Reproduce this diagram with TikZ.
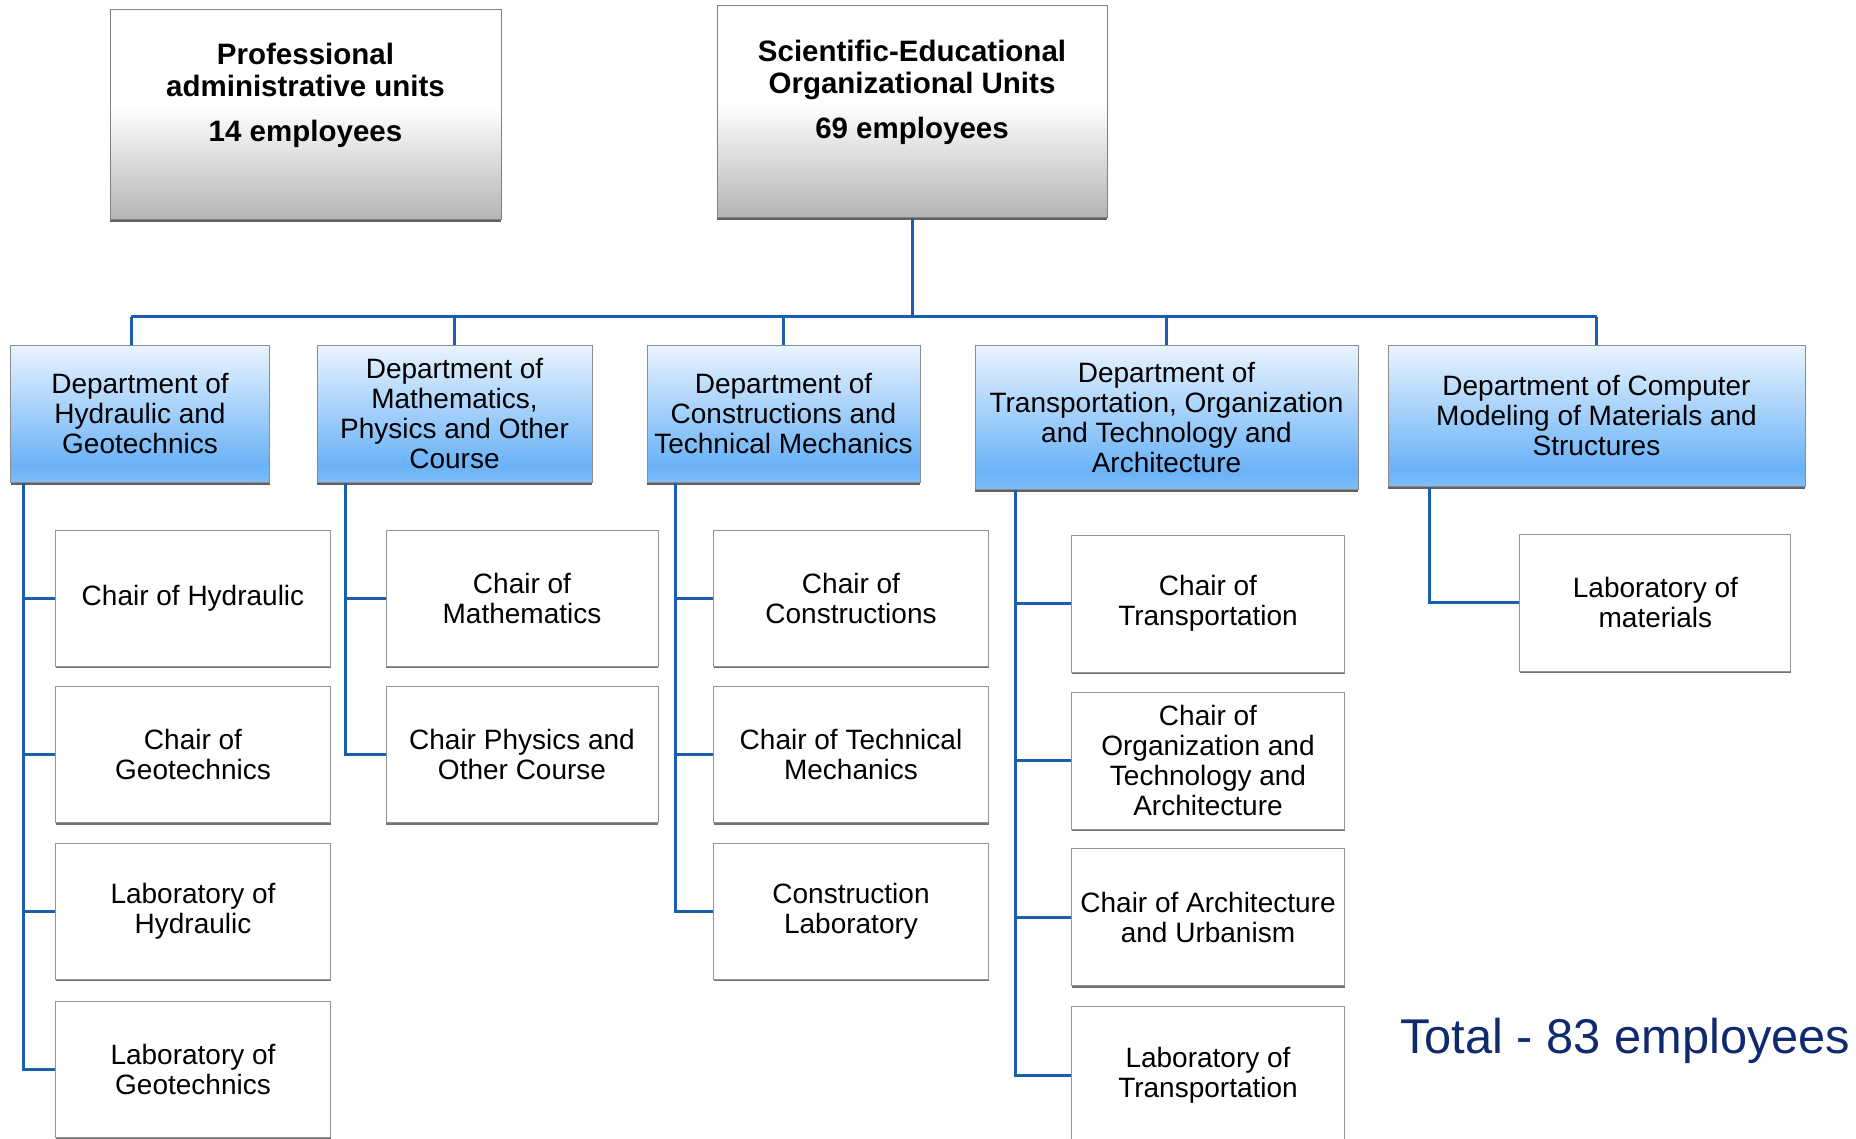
\documentclass[tikz,border=0pt]{standalone}
\usepackage{fontspec}
\setmainfont{Liberation Sans}
\usetikzlibrary{shadows}
\definecolor{connblue}{HTML}{1C5EAE}
\definecolor{totalblue}{HTML}{0F2A6E}
\definecolor{greyB}{HTML}{B4B4B4}
\definecolor{blueB}{HTML}{7EBDF8}
\definecolor{blueM}{HTML}{6AB2F7}
\definecolor{blueT}{HTML}{E8F3FE}
\pgfdeclareverticalshading{greyfade}{100bp}{color(0bp)=(greyB); color(25bp)=(greyB); color(52bp)=(white); color(100bp)=(white)}
\pgfdeclareverticalshading{bluefade}{100bp}{color(0bp)=(blueB); color(25bp)=(blueB); color(31bp)=(blueM); color(75bp)=(blueT); color(100bp)=(blueT)}
\begin{document}
\begin{tikzpicture}[x=1pt,y=-1pt,
  topbox/.style={draw=black!50, line width=1pt, shade, shading=greyfade, inner sep=0pt,
    drop shadow={shadow xshift=0pt, shadow yshift=-2.5pt, fill=black!62, opacity=1}},
  toptext/.style={align=center, inner sep=0pt, font=\fontsize{29.5}{32}\selectfont\bfseries},
  deptbox/.style={draw=black!45, line width=1pt, shade, shading=bluefade, inner sep=0pt,
    align=center, font=\fontsize{28}{30}\selectfont,
    drop shadow={shadow xshift=0pt, shadow yshift=-2.5pt, fill=black!62, opacity=1}},
  childbox/.style={draw=black!42, line width=1pt, fill=white, inner sep=0pt,
    align=center, font=\fontsize{28}{30}\selectfont,
    drop shadow={shadow xshift=0pt, shadow yshift=-2pt, fill=black!55, opacity=1}},
  conn/.style={draw=connblue, line width=3pt}
]
\useasboundingbox (0,0) rectangle (1856,1139);

% top boxes
\node[topbox, minimum width=391, minimum height=210] (top1) at (305.5,115) {};
\node[toptext] (top1t) at (305.5,95) {Professional\\administrative units\\[13pt]14 employees};
\node[topbox, minimum width=390, minimum height=212] (top2) at (912,112) {};
\node[toptext] (top2t) at (912,92) {Scientific-Educational\\Organizational Units\\[13pt]69 employees};

% departments
\node[deptbox, minimum width=259, minimum height=136] (d1) at (140,414) {Department of\\Hydraulic and\\Geotechnics};
\node[deptbox, minimum width=275, minimum height=136] (d2) at (454.5,414) {Department of\\Mathematics,\\Physics and Other\\Course};
\node[deptbox, minimum width=273, minimum height=136] (d3) at (783.5,414) {Department of\\Constructions and\\Technical Mechanics};
\node[deptbox, minimum width=383, minimum height=143] (d4) at (1166.5,417.5) {Department of\\Transportation, Organization\\and Technology and\\Architecture};
\node[deptbox, minimum width=417, minimum height=140] (d5) at (1596.5,416) {Department of Computer\\Modeling of Materials and\\Structures};

% children
\node[childbox, minimum width=275, minimum height=136] (c11) at (193,598) {Chair of Hydraulic};
\node[childbox, minimum width=275, minimum height=136] (c12) at (193,754.6) {Chair of\\Geotechnics};
\node[childbox, minimum width=275, minimum height=136] (c13) at (193,911) {Laboratory of\\Hydraulic};
\node[childbox, minimum width=275, minimum height=136] (c14) at (193,1069.5) {Laboratory of\\Geotechnics};

\node[childbox, minimum width=272, minimum height=136] (c21) at (522,598) {Chair of\\Mathematics};
\node[childbox, minimum width=272, minimum height=136] (c22) at (522,754.6) {Chair Physics and\\Other Course};

\node[childbox, minimum width=275, minimum height=136] (c31) at (851,598) {Chair of\\Constructions};
\node[childbox, minimum width=275, minimum height=136] (c32) at (851,754.6) {Chair of Technical\\Mechanics};
\node[childbox, minimum width=275, minimum height=136] (c33) at (851,911) {Construction\\Laboratory};

\node[childbox, minimum width=273, minimum height=137] (c41) at (1208,603.7) {Chair of\\Transportation};
\node[childbox, minimum width=273, minimum height=137] (c42) at (1208,760.5) {Chair of\\Organization and\\Technology and\\Architecture};
\node[childbox, minimum width=273, minimum height=137] (c43) at (1208,917.4) {Chair of Architecture\\and Urbanism};
\node[childbox, minimum width=273, minimum height=137] (c44) at (1208,1075) {Laboratory of\\Transportation};

\node[childbox, minimum width=271, minimum height=137] (c51) at (1655.4,602.5) {Laboratory of\\materials};

% total
\node[anchor=base west, inner sep=0pt, text=totalblue, font=\fontsize{48.8}{52}\selectfont] (total) at (1400,1053.5) {Total - 83 employees};

% bus
\coordinate (bus) at (912,317);
\coordinate (d1top) at ([xshift=-9]d1.north);
\draw[conn] (top2.south) -- (top2.south |- bus);
\draw[conn] (d1top |- bus) -- (d5.north |- bus);
\draw[conn] (d1top |- bus) -- (d1top);
\draw[conn] (d2.north |- bus) -- (d2.north);
\draw[conn] (d3.north |- bus) -- (d3.north);
\draw[conn] (d4.north |- bus) -- (d4.north);
\draw[conn] (d5.north |- bus) -- (d5.north);

% spines
\coordinate (s1) at ([xshift=13]d1.south west);
\coordinate (s2) at ([xshift=28.6]d2.south west);
\coordinate (s3) at ([xshift=29]d3.south west);
\coordinate (s4) at ([xshift=40.6]d4.south west);
\coordinate (s5) at ([xshift=42]d5.south west);

\draw[conn] (s1) |- (c14.west);
\foreach \c in {c11,c12,c13} \draw[conn] (s1 |- \c.west) -- (\c.west);
\draw[conn] (s2) |- (c22.west);
\draw[conn] (s2 |- c21.west) -- (c21.west);
\draw[conn] (s3) |- (c33.west);
\foreach \c in {c31,c32} \draw[conn] (s3 |- \c.west) -- (\c.west);
\draw[conn] (s4) |- (c44.west);
\foreach \c in {c41,c42,c43} \draw[conn] (s4 |- \c.west) -- (\c.west);
\draw[conn] (s5) |- (c51.west);
\end{tikzpicture}
\end{document}
